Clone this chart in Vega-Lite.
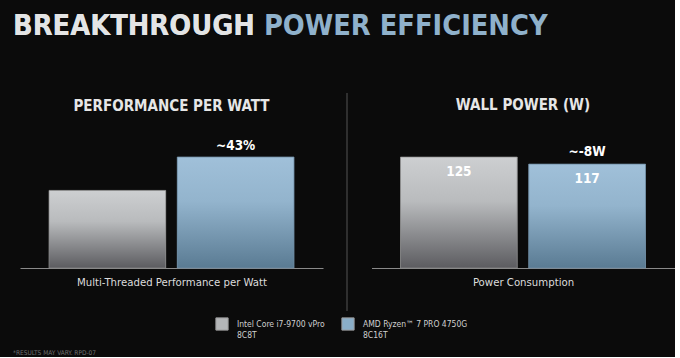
{
  "$schema": "https://vega.github.io/schema/vega-lite/v6.json",
  "background": "#0b0b0b",
  "padding": {"left": 13, "top": 11, "right": 0, "bottom": 0},
  "title": {
    "text": "BREAKTHROUGH POWER EFFICIENCY",
    "subtitle": "BREAKTHROUGH",
    "anchor": "start",
    "dx": 0,
    "font": "Liberation Sans Narrow, DejaVu Sans Condensed, Roboto Condensed, sans-serif",
    "fontSize": 28.7,
    "fontWeight": "bold",
    "color": "#8fb1cb",
    "subtitleFont": "Liberation Sans Narrow, DejaVu Sans Condensed, Roboto Condensed, sans-serif",
    "subtitleFontSize": 28.7,
    "subtitleFontWeight": "bold",
    "subtitleColor": "#e4e4e4",
    "subtitlePadding": -28.7,
    "offset": 52
  },
  "vconcat": [
    {
      "title": {
        "text": "*RESULTS MAY VARY. RPD-07",
        "orient": "bottom",
        "anchor": "start",
        "dx": -7,
        "offset": 38,
        "font": "Liberation Sans Narrow, DejaVu Sans Condensed, sans-serif",
        "fontSize": 6.5,
        "fontWeight": "normal",
        "color": "#707070"
      },
      "spacing": 22.5,
      "hconcat": [
        {
          "width": 303,
          "height": 175,
          "title": {
            "text": "PERFORMANCE PER WATT",
            "font": "Liberation Sans Narrow, DejaVu Sans Condensed, Roboto Condensed, sans-serif",
            "fontSize": 15,
            "fontWeight": "bold",
            "color": "#e6e6e6",
            "offset": -21,
            "anchor": "middle"
          },
          "data": {
            "values": [
              {"processor": "Intel Core i7-9700 vPro|8C8T", "value": 100, "above": ""},
              {"processor": "AMD Ryzen™ 7 PRO 4750G|8C16T", "value": 143, "above": "~43%"}
            ]
          },
          "encoding": {
            "x": {
              "field": "processor",
              "type": "nominal",
              "sort": null,
              "scale": {"paddingInner": 0.09, "paddingOuter": 0.226},
              "axis": {"title": "Multi-Threaded Performance per Watt", "labels": false, "ticks": false}
            },
            "y": {"field": "value", "type": "quantitative", "scale": {"domain": [0, 225.5]}, "axis": null}
          },
          "layer": [
            {
              "mark": {"type": "bar"},
              "encoding": {
                "color": {
                  "field": "processor",
                  "type": "nominal",
                  "scale": {
                    "domain": ["Intel Core i7-9700 vPro|8C8T", "AMD Ryzen™ 7 PRO 4750G|8C16T"],
                    "range": ["#b4b6b8", "#8aaec8"]
                  },
                  "legend": {
                    "orient": "none", "legendX": 195, "legendY": 224, "direction": "horizontal", "title": null,
                    "symbolType": "square", "symbolSize": 150, "symbolStrokeColor": "#9a9a9a", "symbolStrokeWidth": 1,
                    "labelColor": "#d0d0d0", "labelFont": "Liberation Sans Narrow, DejaVu Sans Condensed, sans-serif",
                    "labelFontSize": 8.5, "labelOffset": 8, "columnPadding": 14, "labelLimit": 200,
                    "labelExpr": "split(datum.label, '|')"
                  }
                }
              }
            },
            {
              "transform": [{"filter": "indexof(datum.processor, 'Intel') >= 0"}],
              "mark": {"type": "bar", "stroke": "#8a8a8a", "strokeWidth": 1, "strokeOpacity": 0.7,
                "color": {"gradient": "linear", "x1": 0, "y1": 0, "x2": 0, "y2": 1, "stops": [{"offset": 0, "color": "#cdcfd1"}, {"offset": 0.4, "color": "#b9bbbd"}, {"offset": 1, "color": "#5c5c60"}]}}
            },
            {
              "transform": [{"filter": "indexof(datum.processor, 'AMD') >= 0"}],
              "mark": {"type": "bar", "stroke": "#6f8da4", "strokeWidth": 1, "strokeOpacity": 0.8,
                "color": {"gradient": "linear", "x1": 0, "y1": 0, "x2": 0, "y2": 1, "stops": [{"offset": 0, "color": "#a0c0d9"}, {"offset": 0.4, "color": "#93b4cd"}, {"offset": 1, "color": "#5a7b93"}]}}
            },
            {
              "mark": {"type": "text", "baseline": "alphabetic", "dy": -7, "fontSize": 13.5, "fontWeight": "bold", "color": "#ffffff", "font": "Liberation Sans Narrow, DejaVu Sans Condensed, sans-serif"},
              "encoding": {"text": {"field": "above"}}
            }
          ]
        },
        {
          "width": 303,
          "height": 175,
          "title": {
            "text": "WALL POWER (W)",
            "font": "Liberation Sans Narrow, DejaVu Sans Condensed, Roboto Condensed, sans-serif",
            "fontSize": 15,
            "fontWeight": "bold",
            "color": "#e6e6e6",
            "offset": -21,
            "anchor": "middle"
          },
          "data": {
            "values": [
              {"processor": "Intel Core i7-9700 vPro|8C8T", "value": 125, "above": "", "inside": "125"},
              {"processor": "AMD Ryzen™ 7 PRO 4750G|8C16T", "value": 117, "above": "~-8W", "inside": "117"}
            ]
          },
          "encoding": {
            "x": {
              "field": "processor",
              "type": "nominal",
              "sort": null,
              "scale": {"paddingInner": 0.09, "paddingOuter": 0.226},
              "axis": {"title": "Power Consumption", "labels": false, "ticks": false}
            },
            "y": {"field": "value", "type": "quantitative", "scale": {"domain": [0, 197.1]}, "axis": null}
          },
          "layer": [
            {
              "data": {"values": [{"divider": 1}]},
              "mark": {"type": "rule", "color": "#3c3c3c", "strokeWidth": 1.5},
              "encoding": {"x": {"value": -24.5}, "y": {"value": 0}, "y2": {"value": 218}}
            },
            {
              "mark": {"type": "bar"},
              "encoding": {
                "color": {
                  "field": "processor",
                  "type": "nominal",
                  "legend": {
                    "orient": "none", "legendX": 195, "legendY": 224, "direction": "horizontal", "title": null,
                    "symbolType": "square", "symbolSize": 150, "symbolStrokeColor": "#9a9a9a", "symbolStrokeWidth": 1,
                    "labelColor": "#d0d0d0", "labelFont": "Liberation Sans Narrow, DejaVu Sans Condensed, sans-serif",
                    "labelFontSize": 8.5, "labelOffset": 8, "columnPadding": 14, "labelLimit": 200,
                    "labelExpr": "split(datum.label, '|')"
                  }
                }
              }
            },
            {
              "transform": [{"filter": "indexof(datum.processor, 'Intel') >= 0"}],
              "mark": {"type": "bar", "stroke": "#8a8a8a", "strokeWidth": 1, "strokeOpacity": 0.7,
                "color": {"gradient": "linear", "x1": 0, "y1": 0, "x2": 0, "y2": 1, "stops": [{"offset": 0, "color": "#cdcfd1"}, {"offset": 0.4, "color": "#b9bbbd"}, {"offset": 1, "color": "#5c5c60"}]}}
            },
            {
              "transform": [{"filter": "indexof(datum.processor, 'AMD') >= 0"}],
              "mark": {"type": "bar", "stroke": "#6f8da4", "strokeWidth": 1, "strokeOpacity": 0.8,
                "color": {"gradient": "linear", "x1": 0, "y1": 0, "x2": 0, "y2": 1, "stops": [{"offset": 0, "color": "#a0c0d9"}, {"offset": 0.4, "color": "#93b4cd"}, {"offset": 1, "color": "#5a7b93"}]}}
            },
            {
              "mark": {"type": "text", "baseline": "alphabetic", "dy": -8, "fontSize": 13.5, "fontWeight": "bold", "color": "#ffffff", "font": "Liberation Sans Narrow, DejaVu Sans Condensed, sans-serif"},
              "encoding": {"text": {"field": "above"}}
            },
            {
              "mark": {"type": "text", "baseline": "top", "dy": 8, "fontSize": 13.5, "fontWeight": "bold", "color": "#ffffff", "font": "Liberation Sans Narrow, DejaVu Sans Condensed, sans-serif"},
              "encoding": {"text": {"field": "inside"}}
            }
          ]
        }
      ]
    }
  ],
  "config": {
    "view": {"stroke": null},
    "axisX": {
      "domainColor": "#8a8a8a",
      "domainWidth": 1,
      "titleFont": "Liberation Sans Narrow, DejaVu Sans Condensed, sans-serif",
      "titleFontSize": 11.3,
      "titleFontWeight": "normal",
      "titleColor": "#dcdcdc",
      "titlePadding": 8
    }
  }
}
